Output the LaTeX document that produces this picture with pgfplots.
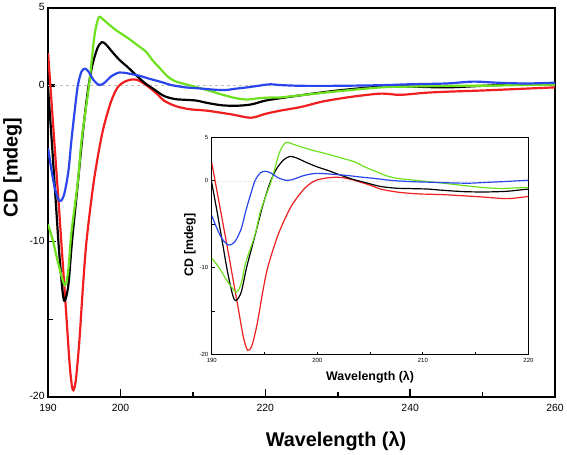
\documentclass[border=0pt]{standalone}
\usepackage{pgfplots}
\pgfplotsset{compat=1.18}
\usepackage{pgfplotstable}
\usepackage{fontspec}
\setmainfont{Liberation Sans}
\definecolor{cdred}{RGB}{240,30,30}
\definecolor{cdblue}{RGB}{40,70,235}
\definecolor{cdgreen}{RGB}{110,225,30}

\pgfplotstableread{
x y
190 2.1
190.5 -1.2
191 -4.5
191.5 -7.8
192 -11.2
192.5 -14.6
193 -18
193.4 -19.5
193.8 -19
194.3 -16.5
194.8 -13
195.3 -10
196.2 -6.5
197 -4.2
197.7 -2.6
198.7 -1.0
199.6 -0.1
200.5 0.25
201.5 0.4
202.3 0.38
203.4 0.1
205 -0.5
206 -0.95
207.6 -1.3
209.5 -1.5
212 -1.6
215.4 -1.84
218 -2.05
220 -1.8
222 -1.6
225 -1.35
228 -1.0
232 -0.7
236 -0.5
238.6 -0.58
242 -0.45
245 -0.38
250 -0.3
255 -0.2
260 -0.1
}\redtab

\pgfplotstableread{
x y
190 -0.2
190.5 -3.5
191 -7
191.5 -10.5
192 -13.2
192.3 -13.8
192.8 -12.8
193.3 -10
194.1 -6.3
194.8 -3
195.5 -0.3
196.1 1.3
196.8 2.4
197.4 2.8
198 2.65
199 2.1
200 1.6
201 1.2
202 0.75
203.3 0.2
204.7 -0.25
206 -0.65
207.5 -0.85
209 -0.9
210.5 -0.95
212 -1.1
214 -1.25
216 -1.28
218 -1.2
220 -0.95
222 -0.8
225 -0.6
230 -0.3
236 -0.05
240 -0.05
245 -0.1
250 0.0
255 0.1
260 0.1
}\blacktab

\pgfplotstableread{
x y
190 -8.9
190.7 -10
191.4 -11.4
192.3 -12.8
192.8 -11.8
193.2 -9.5
194.1 -6.2
194.6 -3.6
195.2 -1.5
195.7 0.2
196.4 3.2
197.0 4.4
197.5 4.3
198.5 3.9
199.6 3.5
200.6 3.2
201.5 2.9
202.5 2.55
203.5 2.2
204.5 1.6
205.6 1.05
206.5 0.6
207.5 0.3
209 0.1
210.6 -0.1
212.5 -0.35
214.3 -0.6
216 -0.8
217.5 -0.88
219 -0.8
220.7 -0.75
222 -0.75
225 -0.6
230 -0.35
236 -0.1
240 -0.05
245 0
250 0.0
255 0.05
260 0.08
}\greentab

\pgfplotstableread{
x y
190 -4.0
190.5 -5.5
191 -6.7
191.6 -7.4
192.2 -7.0
192.8 -5.5
193.2 -3.6
193.7 -1.5
194.1 0
194.6 0.9
195.1 1.1
195.6 0.9
196.3 0.35
197.1 0.05
197.8 0.2
198.7 0.6
199.8 0.85
201 0.8
202.8 0.62
204 0.45
205.6 0.25
207 0.05
209 -0.1
211 -0.17
213 -0.25
214.5 -0.27
216 -0.18
217.5 -0.1
219 0.0
220.7 0.1
222 0.05
225 0.0
230 0.0
236 0.04
240 0.1
245 0.15
248.7 0.27
252 0.2
256 0.15
260 0.2
}\bluetab

\begin{document}
\begin{tikzpicture}
\begin{axis}[
  name=main, at={(0,0)}, anchor=south west,
  scale only axis, width=509bp, height=391bp,
  xmin=190, xmax=260, ymin=-20, ymax=5,
  axis line style={line width=2bp},
  xtick={190,200,220,240,260}, minor xtick={210,230,250},
  ytick={5,-10,-20}, minor ytick={-15},
  extra y ticks={0},
  extra y tick style={major tick length=7bp, tick style={line width=3bp, black}},
  tick pos=left, tick align=inside,
  major tick length=8bp, minor tick length=5bp,
  tick style={line width=1.5bp, black},
  ticklabel style={font=\fontsize{10.5}{12}\selectfont},
  xticklabel style={yshift=-3bp},
  yticklabel style={yshift=1bp},
  /pgf/number format/assume math mode=true,
  xlabel={Wavelength (λ)}, ylabel={CD [mdeg]},
  label style={font=\fontsize{20}{24}\selectfont\bfseries},
  xlabel style={at={(axis description cs:0.568,-0.113)}, anchor=center},
  ylabel style={at={(axis description cs:-0.07,0.59)}, anchor=center},
  clip=true,
]
\addplot[gray!50, dashed, line width=1.2bp] coordinates {(190,0) (260,0)};
\addplot[cdred, line width=2.2bp, smooth] table {\redtab};
\addplot[black, line width=2.2bp, smooth] table {\blacktab};
\addplot[cdgreen, line width=2.2bp, smooth] table {\greentab};
\addplot[cdblue, line width=2.2bp, smooth] table {\bluetab};
\end{axis}

\begin{axis}[
  at={(164.3bp,43bp)}, anchor=south west,
  scale only axis, width=318bp, height=218bp,
  xmin=190, xmax=220, ymin=-20, ymax=5,
  axis background/.style={fill=white},
  axis line style={line width=1.2bp},
  xtick={190,200,210,220}, minor xtick={195,205,215},
  ytick={5,0,-10,-20}, minor ytick={-5,-15},
  tick pos=left, tick align=inside,
  major tick length=3bp, minor tick length=3bp,
  tick style={line width=1bp, black},
  ticklabel style={font=\fontsize{6}{7}\selectfont},
  /pgf/number format/assume math mode=true,
  xlabel={Wavelength (λ)}, ylabel={CD [mdeg]},
  label style={font=\fontsize{12.5}{14}\selectfont\bfseries},
  xlabel style={at={(axis description cs:0.5,-0.105)}, anchor=center},
  ylabel style={at={(axis description cs:-0.069,0.505)}, anchor=center},
  clip=true,
]
\addplot[gray!30, dotted, line width=0.6bp] coordinates {(190,0) (220,0)};
\addplot[cdred, line width=1.2bp, smooth] table {\redtab};
\addplot[black, line width=1.2bp, smooth] table {\blacktab};
\addplot[cdgreen, line width=1.2bp, smooth] table {\greentab};
\addplot[cdblue, line width=1.2bp, smooth] table {\bluetab};
\end{axis}
\end{tikzpicture}
\end{document}
